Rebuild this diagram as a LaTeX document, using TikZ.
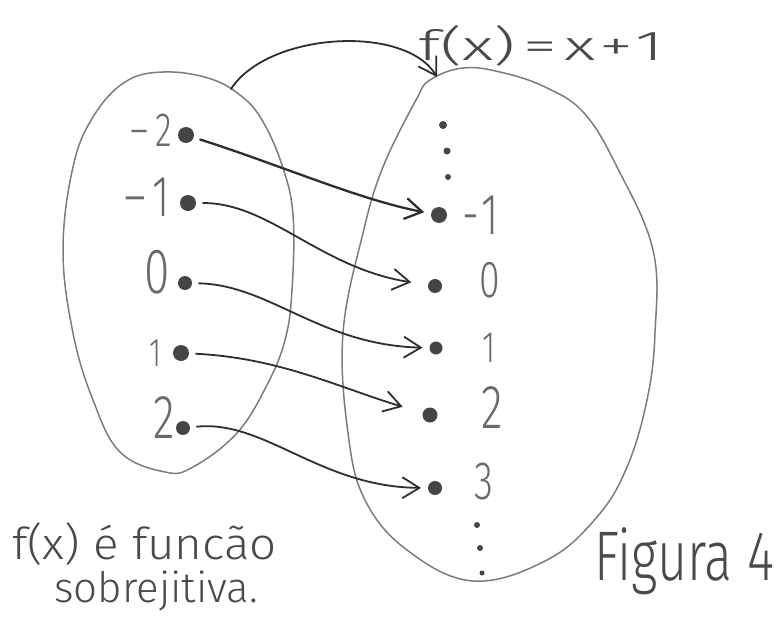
\documentclass[tikz,border=0pt]{standalone}
\usepackage{fontspec}
\usepackage{graphicx}
\newfontfamily\hand{Fira Sans Light}
\usetikzlibrary{arrows.meta}
\definecolor{pencil}{HTML}{7C7C7C}
\definecolor{ink}{HTML}{2E2E2E}
\definecolor{numc}{HTML}{6A6A6A}
\definecolor{dotc}{HTML}{454545}
\definecolor{textc}{HTML}{4A4A4A}
\newcommand{\narrow}[1]{\scalebox{0.72}[1]{#1}}
\begin{document}
\begin{tikzpicture}[x=1pt,y=-1pt,
  setline/.style={draw=pencil, line width=1.5pt},
  arr/.style={draw=ink, line width=1.8pt, line cap=round, line join=round,
    shorten <=7pt, shorten >=7pt, -{Straight Barb[length=17pt,width=21pt]}},
  arc/.style={draw=ink, line width=1.8pt, line cap=round, line join=round,
    -{Straight Barb[length=17pt,width=21pt]}},
  dotn/.style={circle, fill=dotc, minimum size=#1, inner sep=0pt, outer sep=0pt},
  tinydot/.style={circle, fill=dotc, minimum size=#1, inner sep=0pt},
  lbl/.style={text=numc, inner sep=0pt, font=\hand\fontsize{#1}{#1}\selectfont},
  handtext/.style={text=textc, inner sep=0pt, font=\hand\fontsize{#1}{#1}\selectfont}
]
\useasboundingbox (0,0) rectangle (776,621);

% sets
\draw[setline] plot[smooth cycle, tension=0.65] coordinates {
  (163,72) (208,78) (240,95) (262,120) (282,165) (293,215) (292,290)
  (285,340) (267,385) (237,433) (193,467) (165,472) (120,452) (93,400)
  (73,333) (63,250) (73,167) (93,117) (125,82)};
\draw[setline] plot[smooth cycle, tension=0.65] coordinates {
  (463,68) (500,72) (545,87) (584,113) (617,167) (653,250) (655,333)
  (647,400) (627,467) (597,517) (547,560) (473,581) (407,550) (365,500)
  (348,433) (343,333) (363,233) (383,167) (416,100) (430,80)};

% domain
\node[dotn=16pt] (a1) at (186,135) {};
\node[dotn=16pt] (a2) at (188,203) {};
\node[dotn=14pt] (a3) at (185,283) {};
\node[dotn=16pt] (a4) at (181,353) {};
\node[dotn=14pt] (a5) at (183,428) {};
\node[lbl=48, anchor=east] (la1) at (172,130) {\narrow{–\hspace{9pt}2}};
\node[lbl=58, anchor=east] (la2) at (170,197) {\narrow{–\hspace{9pt}1}};
\node[lbl=64, anchor=east] (la3) at (170,272) {\narrow{0}};
\node[lbl=40, anchor=east] (la4) at (162,353) {\narrow{1}};
\node[lbl=62, anchor=east] (la5) at (175,418) {\narrow{2}};

% codomain
\node[tinydot=8pt] (t1) at (443,125) {};
\node[tinydot=7pt] (t2) at (447,151) {};
\node[tinydot=6pt] (t3) at (448,177) {};
\node[dotn=16pt] (b1) at (439,215) {};
\node[dotn=14pt] (b2) at (435,286) {};
\node[dotn=13pt] (b3) at (436,348) {};
\node[dotn=15pt] (b4) at (430,415) {};
\node[dotn=14pt] (b5) at (435,488) {};
\node[tinydot=6pt] (u1) at (477,525) {};
\node[tinydot=6pt] (u2) at (480,548) {};
\node[tinydot=5pt] (u3) at (482,573) {};
\node[lbl=58, anchor=west] (lb1) at (462,215) {\narrow{-\hspace{4pt}1}};
\node[lbl=52, anchor=west] (lb2) at (479,280) {\narrow{0}};
\node[lbl=44, anchor=west] (lb3) at (482,348) {\narrow{1}};
\node[lbl=62, anchor=west] (lb4) at (481,408) {\narrow{2}};
\node[lbl=54, anchor=west] (lb5) at (474,482) {\narrow{3}};

% mapping arrows
\draw[arr, line width=2.3pt] (a1) .. controls (280,165) and (360,200) .. (b1);
\draw[arr, shorten >=17pt] (a2) .. controls (270,203) and (320,268) .. (b2);
\draw[arr] (a3) .. controls (270,285) and (320,345) .. (b3);
\draw[arr, shorten >=21pt] (a4) .. controls (280,358) and (340,388) .. (b4);
\draw[arr] (a5) .. controls (265,420) and (320,487) .. (b5);

% function arc
\coordinate (arcstart) at (231,89);
\coordinate (arcend) at (437,77);
\draw[arc] (arcstart) .. controls (268,32) and (405,24) .. (arcend);
\node[handtext=44, anchor=base west] (fx) at (418,60)
  {\scalebox{1.55}[0.95]{f(x)\hspace{5pt}=\hspace{5pt}x\hspace{2pt}+\hspace{2pt}1}};

% captions
\node[handtext=44, anchor=base west] (cap1) at (12,559) {\scalebox{1.08}[1]{f(x) é funcão}};
\node[handtext=42, anchor=base west] (cap2) at (54,602) {sobrejitiva.};
\node[handtext=52, anchor=base west] (fig) at (594,580) {\scalebox{1}[1.35]{Figura 4}};
\end{tikzpicture}
\end{document}
